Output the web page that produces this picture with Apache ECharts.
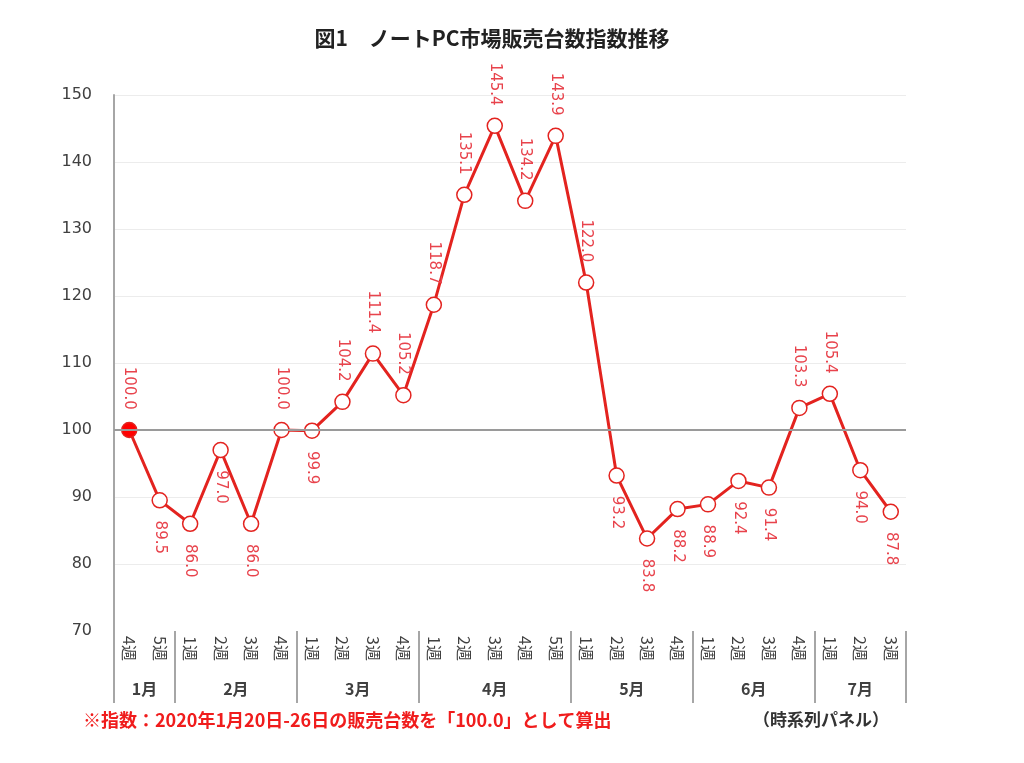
<!DOCTYPE html>
<html>
<head>
<meta charset="utf-8">
<script src="https://cdn.jsdelivr.net/npm/echarts@6/dist/echarts.min.js"></script>
<style>html,body{margin:0;padding:0;background:#fff;}#c{width:1024px;height:763px;}</style>
</head>
<body>
<div id="c"></div>
<script>
const chartTitle = '図1　ノートPC市場販売台数指数推移';
const footNote = '※指数：2020年1月20日-26日の販売台数を「100.0」として算出';
const sideNote = '（時系列パネル）';
const weekLabels = ['4週','5週','1週','2週','3週','4週','1週','2週','3週','4週','1週','2週','3週','4週','5週','1週','2週','3週','4週','1週','2週','3週','4週','1週','2週','3週'];
const indexValues = [100.0, 89.5, 86.0, 97.0, 86.0, 100.0, 99.9, 104.2, 111.4, 105.2, 118.7, 135.1, 145.4, 134.2, 143.9, 122.0, 93.2, 83.8, 88.2, 88.9, 92.4, 91.4, 103.3, 105.4, 94.0, 87.8];
const monthNames = ['1月','2月','3月','4月','5月','6月','7月'];
const monthWeekCounts = [2, 4, 4, 5, 4, 4, 3];
const yMin = 70, yMax = 150, yStep = 10;
const baseValue = 100;

// style: which labels sit below their point
const labelsBelow = new Set([1,2,3,4,6,16,17,18,19,20,21,24,25]);

// build month axis (half-week resolution, boundaryGap false)
const totalHalf = monthWeekCounts.reduce((a,b)=>a+b,0) * 2;
const monthCats = new Array(totalHalf + 1).fill('');
const sepIdx = new Set();
let start = 0;
monthWeekCounts.forEach((n, m) => {
  sepIdx.add(start * 2);
  monthCats[start * 2 + n] = monthNames[m];
  start += n;
});
sepIdx.add(start * 2);

const RED = '#e3231f';
const LABEL_RED = '#e8434c';

const seriesData = indexValues.map((v, i) => {
  const below = labelsBelow.has(i);
  return {
    value: v,
    itemStyle: i === 0 ? { color: '#ff0000', borderColor: '#e3231f', borderWidth: 1.5 } : undefined,
    label: {
      position: below ? 'bottom' : 'top',
      align: below ? 'left' : 'right',
      verticalAlign: 'middle'
    }
  };
});

const chart = echarts.init(document.getElementById('c'));
chart.setOption({
  backgroundColor: '#fff',
  animation: false,
  title: [
    { text: chartTitle, left: 487, top: 23, textAlign: 'center',
      textStyle: { fontFamily: 'Noto Sans CJK JP', fontSize: 21, fontWeight: 'bold', color: '#222' } },
    { text: footNote, left: 78, top: 706,
      textStyle: { fontFamily: 'Noto Sans CJK JP', fontSize: 18, fontWeight: 'bold', color: '#f01c1c' } },
    { text: sideNote, left: 748, top: 706,
      textStyle: { fontFamily: 'Noto Sans CJK JP', fontSize: 17, fontWeight: 'bold', color: '#333' } }
  ],
  grid: { left: 114, right: 118, top: 95, bottom: 132, containLabel: false },
  xAxis: [
    {
      type: 'category', data: weekLabels, boundaryGap: true,
      axisLine: { show: false }, axisTick: { show: false },
      axisLabel: { interval: 0, rotate: -90, margin: 5, fontSize: 16,
        fontFamily: 'Noto Sans CJK JP', color: '#404040' },
      splitLine: { show: false }
    },
    {
      type: 'category', data: monthCats, boundaryGap: false, position: 'bottom',
      axisLine: { show: false },
      axisTick: { show: true, interval: (i) => sepIdx.has(i), length: 72,
        lineStyle: { color: '#a6a6a6', width: 2 } },
      axisLabel: { interval: 0, margin: 50, fontSize: 16, fontWeight: 'bold',
        fontFamily: 'Noto Sans CJK JP', color: '#404040' },
      splitLine: { show: false }
    }
  ],
  yAxis: {
    type: 'value', min: yMin, max: yMax, interval: yStep,
    axisLine: { show: true, lineStyle: { color: '#a6a6a6', width: 2 } },
    axisTick: { show: false },
    axisLabel: { margin: 22, fontSize: 16, fontFamily: 'DejaVu Sans', color: '#404040' },
    splitLine: { show: true, lineStyle: {
      color: ['rgba(0,0,0,0)', '#ececec', '#ececec', '#ececec', '#ececec', '#ececec', '#ececec', '#ececec', '#ececec'],
      width: 1 } }
  },
  series: [{
    type: 'line',
    xAxisIndex: 0,
    data: seriesData,
    symbol: 'circle',
    symbolSize: 15,
    showAllSymbol: true,
    lineStyle: { color: RED, width: 3 },
    itemStyle: { color: '#fff', borderColor: RED, borderWidth: 1.5 },
    label: {
      show: true, rotate: -90, distance: 12, fontSize: 15,
      fontFamily: 'DejaVu Sans', color: LABEL_RED,
      formatter: (p) => p.value.toFixed(1)
    },
    markLine: {
      silent: true, symbol: 'none', label: { show: false },
      lineStyle: { color: '#9a9a9a', width: 2, type: 'solid' },
      data: [{ yAxis: baseValue }]
    },
    z: 3
  }]
});
</script>
</body>
</html>
